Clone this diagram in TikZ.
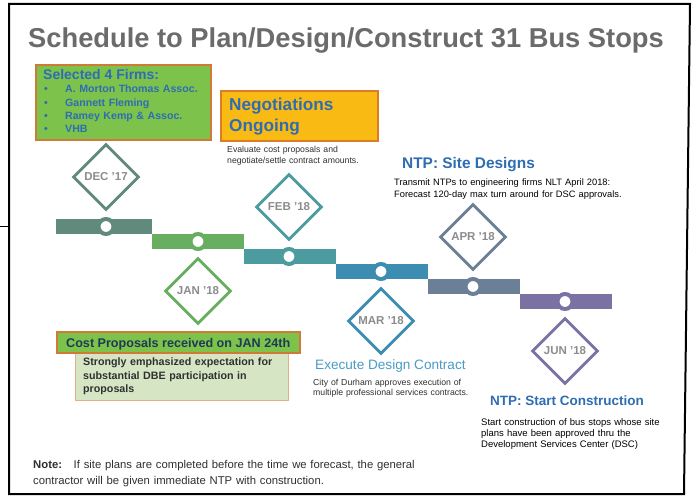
\documentclass[tikz,border=0pt]{standalone}
\usepackage{fontspec}
\setmainfont{Liberation Sans}
\usepackage{xcolor}
\usepackage{tikz}
\usetikzlibrary{shapes.geometric, positioning}

\definecolor{titlegray}{HTML}{6B6B6B}
\definecolor{datetext}{HTML}{8C8C8C}
\definecolor{headblue}{HTML}{2F6DB3}
\definecolor{execblue}{HTML}{4B9BC6}
\definecolor{firmgreen}{HTML}{7DC24B}
\definecolor{palegreen}{HTML}{D6E6C4}
\definecolor{negoorange}{HTML}{F9BA14}
\definecolor{boxedge}{HTML}{CF7A36}
\definecolor{costtext}{HTML}{1F3A56}
\definecolor{bodytext}{HTML}{303030}
\definecolor{decc}{HTML}{5F8A7C}
\definecolor{janc}{HTML}{67AE60}
\definecolor{febc}{HTML}{4C9B9F}
\definecolor{marc}{HTML}{3C8DB1}
\definecolor{aprc}{HTML}{6B7F96}
\definecolor{junc}{HTML}{7B71A3}

\begin{document}
\begin{tikzpicture}[x=1pt, y=-1pt,
        month/.style={
                diamond,
                draw,
                fill=white,
                line width=2.8pt,
                minimum width=66pt,
                minimum height=66pt,
                inner sep=0pt,
                text=datetext,
                font=\bfseries\fontsize{11.5}{12}\selectfont,
        },
        stop/.style={
                circle,
                draw,
                fill=white,
                line width=4pt,
                minimum size=15pt,
                inner sep=0pt,
        },
        headline/.style={
                anchor=base west,
                inner sep=0pt,
                text=headblue,
        },
        blurb/.style={
                anchor=base west,
                inner sep=0pt,
                text width=260pt,
                align=left,
                text=bodytext,
                font=\fontsize{8.7}{10.6}\selectfont,
        }]
            \useasboundingbox (0,0) rectangle (694,497);
            \fill[white] (0,0) rectangle (694,497);
            \draw[line width=2pt] (9,4) -- (690,4) -- (684,494) -- (9,494) -- cycle;
            \draw[line width=1pt] (0,227) -- (9,227);

            \node[headline, text=titlegray, font=\bfseries\fontsize{27.3}{30}\selectfont] (title) at (28,48) {Schedule to Plan/Design/Construct 31 Bus Stops};

            \draw[fill=firmgreen, draw=boxedge, line width=1.3pt] (36,65) rectangle (211,140);
            \node[headline, font=\bfseries\fontsize{14}{14}\selectfont] (firmshead) at (43,80) {Selected 4 Firms:};
            \node[headline, text width=165pt, align=left, font=\bfseries\fontsize{10.6}{13.1}\selectfont] (firms) at (44,93) {\makebox[21pt][l]{•}A. Morton Thomas Assoc.\\\makebox[21pt][l]{•}Gannett Fleming\\\makebox[21pt][l]{•}Ramey Kemp \& Assoc.\\\makebox[21pt][l]{•}VHB};

            \draw[fill=negoorange, draw=boxedge!70!orange, line width=1.3pt] (221,91) rectangle (378,141);
            \node[headline, text width=150pt, align=left, font=\bfseries\fontsize{17.2}{21}\selectfont] (nego) at (229,111) {Negotiations\\Ongoing};
            \node[blurb] (negotext) at (227,153) {Evaluate cost proposals and\\negotiate/settle contract amounts.};

            \node[headline, font=\bfseries\fontsize{15.4}{16}\selectfont] (sitehead) at (402,169) {NTP: Site Designs};
            \node[blurb, text=black, font=\fontsize{9.3}{11.5}\selectfont] (sitetext) at (394,186) {Transmit NTPs to engineering firms NLT April 2018:\\Forecast 120-day max turn around for DSC approvals.};

            \fill[decc] (56,219) rectangle (152,234);
            \fill[janc] (152,234) rectangle (244,249);
            \fill[febc] (244,249) rectangle (336,264);
            \fill[marc] (336,264) rectangle (428,279);
            \fill[aprc] (428,279) rectangle (520,294);
            \fill[junc] (520,294) rectangle (612,309);

            \node[stop, draw=decc] (decstop) at (106,226.5) {};
            \node[stop, draw=janc] (janstop) at (198,241.5) {};
            \node[stop, draw=febc] (febstop) at (289,256.5) {};
            \node[stop, draw=marc] (marstop) at (381,271.5) {};
            \node[stop, draw=aprc] (aprstop) at (473,286.5) {};
            \node[stop, draw=junc] (junstop) at (565,301.5) {};

            \node[month, draw=decc] (dec) at (106,177) {DEC '17};
            \node[month, draw=janc] (jan) at (198,291) {JAN '18};
            \node[month, draw=febc] (feb) at (289,207) {FEB '18};
            \node[month, draw=marc] (mar) at (381,321) {MAR '18};
            \node[month, draw=aprc] (apr) at (473,237) {APR '18};
            \node[month, draw=junc] (jun) at (565,351) {JUN '18};

            \draw[fill=palegreen, draw=boxedge!60, line width=1pt] (75,353) rectangle (288,400);
            \draw[fill=firmgreen, draw=boxedge, line width=1.3pt] (57,332) rectangle (300,353);
            \node[headline, text=costtext, font=\bfseries\fontsize{12.6}{13}\selectfont] (costhead) at (66,347) {Cost Proposals received on JAN 24th};
            \node[blurb, font=\bfseries\fontsize{10.7}{13.2}\selectfont] (dbetext) at (83,366) {Strongly emphasized expectation for\\substantial DBE participation in\\proposals};

            \node[headline, text=execblue, font=\fontsize{13.6}{14}\selectfont] (exechead) at (315,370) {Execute Design Contract};
            \node[blurb] (exectext) at (313,385) {City of Durham approves execution of\\multiple professional services contracts.};

            \node[headline, font=\bfseries\fontsize{13.5}{14}\selectfont] (starthead) at (490,405) {NTP: Start Construction};
            \node[blurb, text=black, font=\fontsize{9.5}{11.2}\selectfont] (starttext) at (481,425) {Start construction of bus stops whose site\\plans have been approved thru the\\Development Services Center (DSC)};

            \node[blurb, text width=450pt, font=\fontsize{11.3}{16.5}\selectfont] (note) at (33,468) {\textbf{Note:}\hspace{6pt} If site plans are completed before the time we forecast, the general\\contractor will be given immediate NTP with construction.};
        \end{tikzpicture}
\end{document}
